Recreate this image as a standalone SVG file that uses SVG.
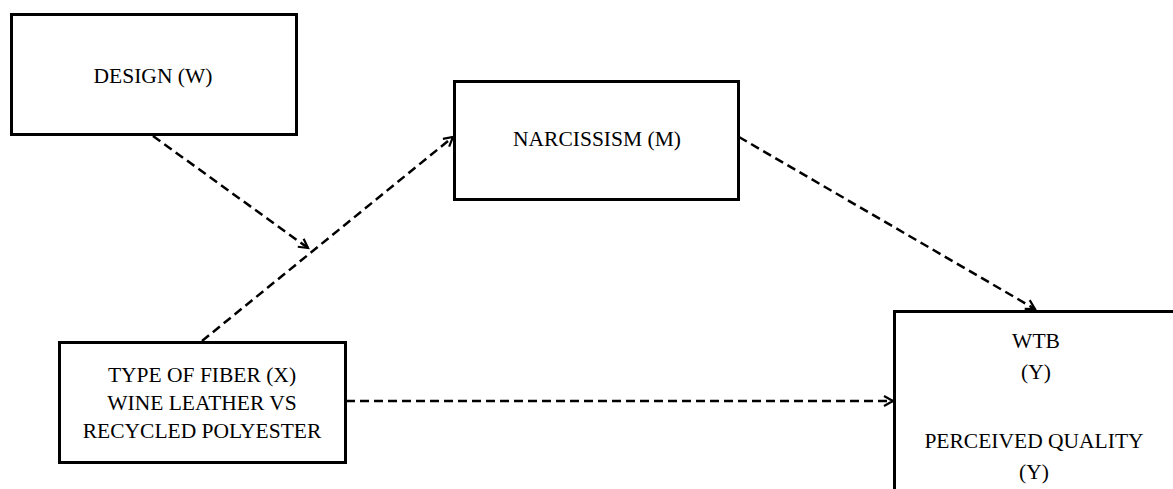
<svg xmlns="http://www.w3.org/2000/svg" width="1173" height="489" viewBox="0 0 1173 489">
<style>
.box{fill:#fff;stroke:#000;stroke-width:3}
.t{font-family:"Liberation Serif","Times New Roman",serif;font-size:21.5px;fill:#000;text-anchor:middle}
.c{fill:none;stroke:#000;stroke-width:2.5;stroke-dasharray:9 5}
</style>
<defs>
<marker id="ah" markerUnits="userSpaceOnUse" markerWidth="14" markerHeight="14" refX="10" refY="6" orient="auto">
<path d="M1,1 L10,6 L1,11" fill="none" stroke="#000" stroke-width="2.2"/>
</marker>
</defs>
<rect width="1173" height="489" fill="#fff"/>
<g id="connectors">
<line class="c" x1="153" y1="136" x2="308" y2="248" marker-end="url(#ah)"/>
<line class="c" x1="202" y1="341" x2="453" y2="137" marker-end="url(#ah)"/>
<line class="c" x1="739" y1="137" x2="1035" y2="309" marker-end="url(#ah)"/>
<line class="c" x1="346" y1="401" x2="893" y2="401" marker-end="url(#ah)"/>
</g>
<g id="design">
<rect class="box" x="11.5" y="14.5" width="285" height="120"/>
<text class="t" x="153" y="83">DESIGN (W)</text>
</g>
<g id="narcissism">
<rect class="box" x="454.5" y="81.5" width="284" height="118"/>
<text class="t" x="597" y="146">NARCISSISM (M)</text>
</g>
<g id="fiber">
<rect class="box" x="59.5" y="342.5" width="286" height="120"/>
<text class="t" x="202" y="382">TYPE OF FIBER (X)</text>
<text class="t" x="202" y="410">WINE LEATHER VS</text>
<text class="t" x="202" y="438">RECYCLED POLYESTER</text>
</g>
<g id="outcome">
<rect class="box" x="894.5" y="311.5" width="300" height="190"/>
<text class="t" x="1036" y="348">WTB</text>
<text class="t" x="1036" y="379">(Y)</text>
<text class="t" x="1034" y="448">PERCEIVED QUALITY</text>
<text class="t" x="1034" y="479">(Y)</text>
</g>
</svg>
